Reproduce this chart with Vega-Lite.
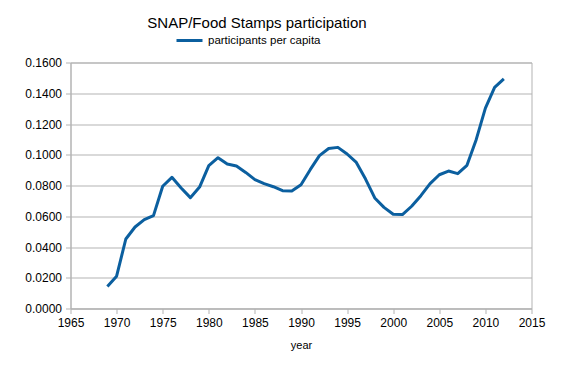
{
  "$schema": "https://vega.github.io/schema/vega-lite/v6.json",
  "width": 461,
  "height": 246,
  "autosize": "none",
  "padding": {"left": 70.5, "top": 62.5, "right": 30, "bottom": 63},
  "background": "white",
  "config": {
    "font": "Liberation Sans",
    "view": {"stroke": "#b3b3b3", "strokeWidth": 1}
  },
  "title": {
    "text": "SNAP/Food Stamps participation",
    "fontSize": 15,
    "fontWeight": "normal",
    "color": "#000000",
    "anchor": "middle",
    "dx": -44,
    "offset": -5
  },
  "data": {
    "values": [
      {"year": 1969, "value": 0.0143, "series": "participants per capita"},
      {"year": 1970, "value": 0.0210, "series": "participants per capita"},
      {"year": 1971, "value": 0.0452, "series": "participants per capita"},
      {"year": 1972, "value": 0.0530, "series": "participants per capita"},
      {"year": 1973, "value": 0.0578, "series": "participants per capita"},
      {"year": 1974, "value": 0.0604, "series": "participants per capita"},
      {"year": 1975, "value": 0.0795, "series": "participants per capita"},
      {"year": 1976, "value": 0.0853, "series": "participants per capita"},
      {"year": 1977, "value": 0.0784, "series": "participants per capita"},
      {"year": 1978, "value": 0.0721, "series": "participants per capita"},
      {"year": 1979, "value": 0.0790, "series": "participants per capita"},
      {"year": 1980, "value": 0.0929, "series": "participants per capita"},
      {"year": 1981, "value": 0.0981, "series": "participants per capita"},
      {"year": 1982, "value": 0.0940, "series": "participants per capita"},
      {"year": 1983, "value": 0.0927, "series": "participants per capita"},
      {"year": 1984, "value": 0.0885, "series": "participants per capita"},
      {"year": 1985, "value": 0.0838, "series": "participants per capita"},
      {"year": 1986, "value": 0.0812, "series": "participants per capita"},
      {"year": 1987, "value": 0.0792, "series": "participants per capita"},
      {"year": 1988, "value": 0.0766, "series": "participants per capita"},
      {"year": 1989, "value": 0.0764, "series": "participants per capita"},
      {"year": 1990, "value": 0.0805, "series": "participants per capita"},
      {"year": 1991, "value": 0.0903, "series": "participants per capita"},
      {"year": 1992, "value": 0.0994, "series": "participants per capita"},
      {"year": 1993, "value": 0.1041, "series": "participants per capita"},
      {"year": 1994, "value": 0.1048, "series": "participants per capita"},
      {"year": 1995, "value": 0.1005, "series": "participants per capita"},
      {"year": 1996, "value": 0.0950, "series": "participants per capita"},
      {"year": 1997, "value": 0.0842, "series": "participants per capita"},
      {"year": 1998, "value": 0.0719, "series": "participants per capita"},
      {"year": 1999, "value": 0.0658, "series": "participants per capita"},
      {"year": 2000, "value": 0.0613, "series": "participants per capita"},
      {"year": 2001, "value": 0.0611, "series": "participants per capita"},
      {"year": 2002, "value": 0.0665, "series": "participants per capita"},
      {"year": 2003, "value": 0.0734, "series": "participants per capita"},
      {"year": 2004, "value": 0.0812, "series": "participants per capita"},
      {"year": 2005, "value": 0.0870, "series": "participants per capita"},
      {"year": 2006, "value": 0.0894, "series": "participants per capita"},
      {"year": 2007, "value": 0.0877, "series": "participants per capita"},
      {"year": 2008, "value": 0.0931, "series": "participants per capita"},
      {"year": 2009, "value": 0.1098, "series": "participants per capita"},
      {"year": 2010, "value": 0.1303, "series": "participants per capita"},
      {"year": 2011, "value": 0.1438, "series": "participants per capita"},
      {"year": 2012, "value": 0.1494, "series": "participants per capita"}
    ]
  },
  "mark": {"type": "line", "strokeWidth": 3, "strokeJoin": "round"},
  "encoding": {
    "x": {
      "field": "year",
      "type": "quantitative",
      "scale": {"domain": [1965, 2015], "nice": false, "zero": false},
      "axis": {
        "title": "year",
        "values": [1965, 1970, 1975, 1980, 1985, 1990, 1995, 2000, 2005, 2010, 2015],
        "format": "d",
        "grid": false,
        "domain": true,
        "domainColor": "#b3b3b3",
        "tickColor": "#b3b3b3",
        "tickSize": 5,
        "labelPadding": 4,
        "labelFontSize": 12,
        "labelColor": "#000000",
        "labelFlush": false,
        "titleFontSize": 11,
        "titleFontWeight": "normal",
        "titleColor": "#000000",
        "titlePadding": 11
      }
    },
    "y": {
      "field": "value",
      "type": "quantitative",
      "scale": {"domain": [0, 0.16], "nice": false},
      "axis": {
        "title": null,
        "values": [0, 0.02, 0.04, 0.06, 0.08, 0.1, 0.12, 0.14, 0.16],
        "format": ".4f",
        "grid": true,
        "gridColor": "#b3b3b3",
        "domain": true,
        "domainColor": "#b3b3b3",
        "tickColor": "#b3b3b3",
        "tickSize": 5,
        "labelPadding": 4,
        "labelFontSize": 12,
        "labelColor": "#000000"
      }
    },
    "color": {
      "field": "series",
      "type": "nominal",
      "scale": {"range": ["#0b5f9f"]},
      "legend": {
        "title": null,
        "orient": "none",
        "legendX": 104.5,
        "legendY": -36.5,
        "padding": 0,
        "symbolType": "stroke",
        "symbolSize": 676,
        "symbolStrokeWidth": 3,
        "symbolOffset": 0,
        "labelOffset": 4,
        "labelFontSize": 11.5,
        "labelColor": "#000000"
      }
    }
  }
}
